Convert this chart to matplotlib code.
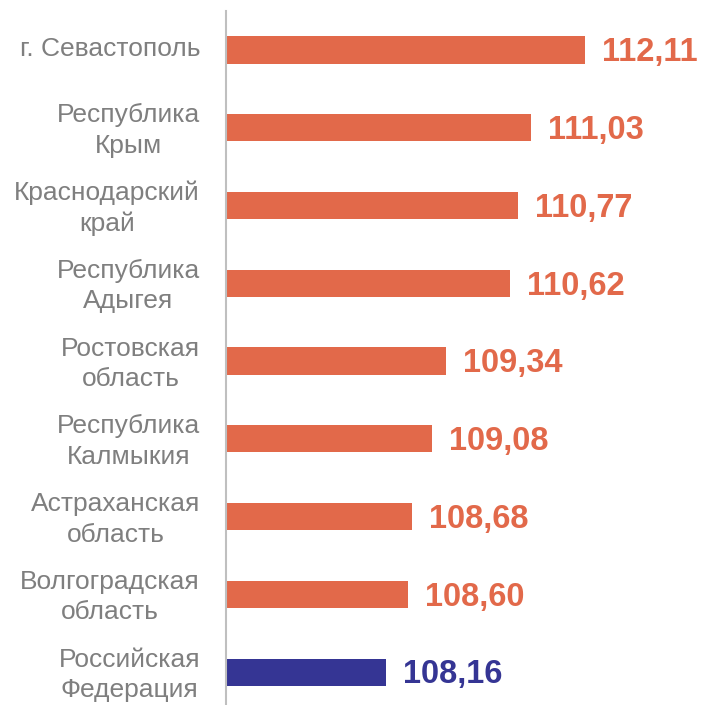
import matplotlib
matplotlib.use("Agg")
import matplotlib.pyplot as plt
from matplotlib.transforms import ScaledTranslation

categories = ["г. Севастополь", "Республика\nКрым", "Краснодарский\nкрай", "Республика\nАдыгея",
              "Ростовская\nобласть", "Республика\nКалмыкия", "Астраханская\nобласть",
              "Волгоградская\nобласть", "Российская\nФедерация"]
values = [112.11, 111.03, 110.77, 110.62, 109.34, 109.08, 108.68, 108.60, 108.16]
value_labels = ["112,11", "111,03", "110,77", "110,62", "109,34", "109,08", "108,68", "108,60", "108,16"]
colors = ["#E2694A"] * 8 + ["#353594"]

plt.rcParams['font.family'] = ['Liberation Sans', 'DejaVu Sans']

W, H = 701, 705
fig = plt.figure(figsize=(W / 100, H / 100), dpi=100)
ax = fig.add_axes([226.4 / W, -6 / H, (W - 226.4) / W, 700 / H])

xmin = 105.0
scale = 50.5
ax.set_xlim(xmin, xmin + (W - 226.4) / scale)
ax.set_ylim(8.5, -0.5)

ys = list(range(len(categories)))
ax.barh(ys, [v - xmin for v in values], left=xmin, height=0.35, color=colors)

for y, v, lab, c in zip(ys, values, value_labels, colors):
    ax.annotate(lab, (v, y), xytext=(12.2, -2), textcoords="offset points",
                ha="left", va="center", fontsize=23.5, fontweight="bold", color=c)

ax.set_yticks(ys)
ax.set_yticklabels(categories, fontsize=19, color="#7F7F7F", linespacing=1.35,
                   multialignment="center")
ax.tick_params(axis="y", length=0, pad=19)
shift = ScaledTranslation(0, 3 / 100, fig.dpi_scale_trans)
for lbl in ax.get_yticklabels():
    lbl.set_transform(lbl.get_transform() + shift)
ax.set_xticks([])
for s in ["top", "right", "bottom"]:
    ax.spines[s].set_visible(False)
ax.spines["left"].set_color("#BFBFBF")
ax.spines["left"].set_linewidth(1.5)

fig.savefig("out.png", dpi=100)
